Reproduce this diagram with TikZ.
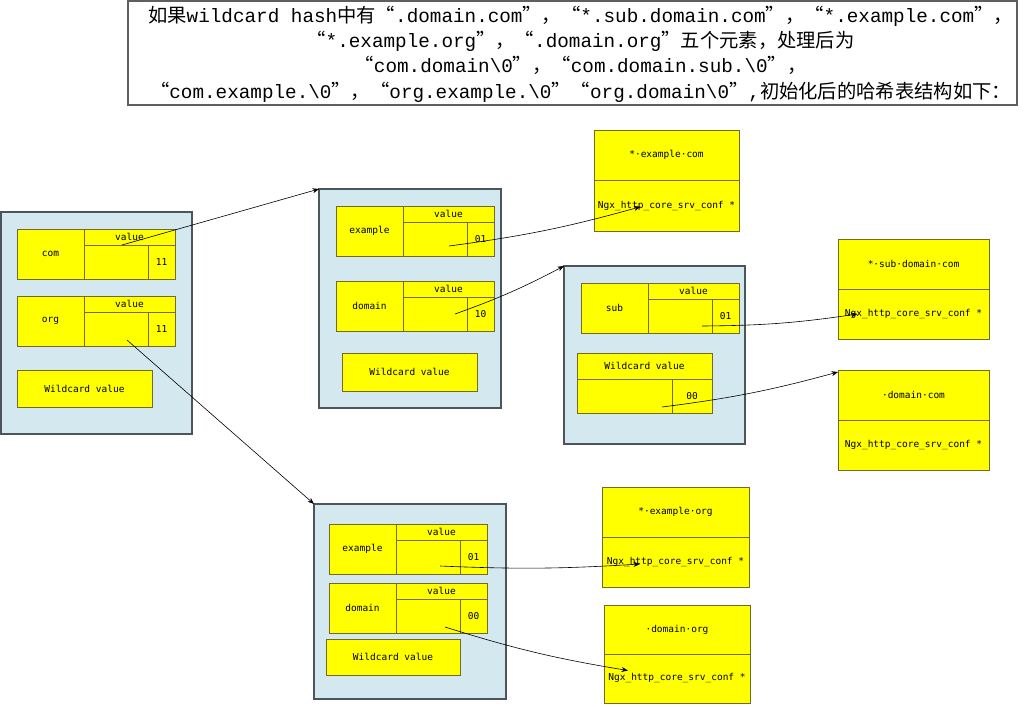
\documentclass[tikz,border=0pt]{standalone}
\usepackage{fontspec}
\usetikzlibrary{arrows.meta}
\newfontfamily\cjk[RawFeature=+fwid]{Noto Sans CJK SC}
\newfontfamily\titlefont{Liberation Mono}
\newfontfamily\boxfont{DejaVu Sans Mono}
\definecolor{cellyellow}{RGB}{255,255,0}
\definecolor{cellline}{RGB}{115,105,40}
\definecolor{boxblue}{RGB}{211,232,239}
\definecolor{boxline}{RGB}{75,85,90}
\definecolor{titleline}{RGB}{95,95,95}

\begin{document}
\begin{tikzpicture}[x=1pt,y=-1pt]
	\tikzset{cell/.style={draw=cellline, fill=cellyellow, line width=0.8pt, inner sep=0pt, outer sep=0pt, anchor=north west, font=\boxfont\fontsize{9.5}{11}\selectfont},
		holder/.style={draw=boxline, fill=boxblue, line width=1.2pt, inner sep=0pt, outer sep=0pt, anchor=north west},
		ptr/.style={-{Stealth[length=6.5pt,width=5pt]}, line width=0.6pt}}
	\useasboundingbox (0,0) rectangle (1024,706);

	% heading text
	\node[draw=titleline, line width=1.5pt, minimum width=889pt, minimum height=104pt, inner sep=0pt] (title) at (572.5,53) {};
	\node[align=center, inner sep=0pt, font=\titlefont\fontsize{19.3}{25.3}\selectfont] (title-text) at ([xshift=8pt,yshift=-1pt]title.center) {{\cjk 如果}wildcard hash{\cjk 中有“}.domain.com{\cjk ”，“}*.sub.domain.com{\cjk ”，“}*.example.com{\cjk ”，}\\
		{\cjk “}*.example.org{\cjk ”，“}.domain.org{\cjk ”五个元素，处理后为}\\
		{\cjk “}com.domain\textbackslash0{\cjk ”，“}com.domain.sub.\textbackslash0{\cjk ”，}\\
		{\cjk “}com.example.\textbackslash0{\cjk ”，“}org.example.\textbackslash0{\cjk ”“}org.domain\textbackslash0{\cjk ”},{\cjk 初始化后的哈希表结构如下：}};

	% hash tables
	\node[holder, minimum width=191pt, minimum height=222pt] (root) at (1,212) {};
	\node[holder, minimum width=182pt, minimum height=219pt] (cbox) at (319,189) {};
	\node[holder, minimum width=181pt, minimum height=178pt] (sbox) at (564,266) {};
	\node[holder, minimum width=192pt, minimum height=195pt] (obox) at (314,504) {};

	% elements: key | value / pointer | flags
	\foreach \n/\x/\y/\k/\v in {com/17/229/com/11, org/17/296/org/11, exa/336/206/example/01, doma/336/281/domain/10, sub/581/283/sub/01, exb/329/524/example/01, domb/329/583/domain/00}{
		\node[cell, minimum width=67pt, minimum height=50pt] (\n-key) at (\x,\y) {\k};
		\node[cell, minimum width=91pt, minimum height=16pt] (\n-hdr) at (\n-key.north east) {value};
		\node[cell, minimum width=64pt, minimum height=34pt] (\n-ptr) at (\n-hdr.south west) {};
		\node[cell, minimum width=27pt, minimum height=34pt] (\n-num) at (\n-ptr.north east) {\v};
	}

	\node[cell, minimum width=135pt, minimum height=37pt] (rootwc) at (17,370) {Wildcard value};
	\node[cell, minimum width=135pt, minimum height=38pt] (cboxwc) at (342,353) {Wildcard value};
	\node[cell, minimum width=134pt, minimum height=36pt] (oboxwc) at (326,639) {Wildcard value};

	\node[cell, minimum width=135pt, minimum height=26pt] (subwc-hdr) at (577,353) {Wildcard value};
	\node[cell, minimum width=95pt, minimum height=34pt] (subwc-ptr) at (subwc-hdr.south west) {};
	\node[cell, minimum width=40pt, minimum height=34pt] (subwc-num) at (subwc-ptr.north east) {00};

	% servers
	\foreach \n/\x/\y/\w/\h/\t in {tcom/594/130/145pt/50.5pt/*·example·com, tsub/838/239/151pt/50pt/*·sub·domain·com, tdom/838/370/151pt/50pt/·domain·com, torg/602/487/147pt/50pt/*·example·org, tdorg/604/605/146pt/49pt/·domain·org}{
		\node[cell, minimum width=\w, minimum height=\h] (\n-name) at (\x,\y) {\t};
		\node[cell, minimum width=\w, minimum height=\h] (\n-conf) at (\n-name.south west) {Ngx\_http\_core\_srv\_conf *};
	}

	% pointers
	\draw[ptr] ([xshift=6pt]com-ptr.north) -- (cbox.north west);
	\draw[ptr] ([xshift=11pt,yshift=-11pt]org-ptr.center) -- (obox.north west);
	\draw[ptr] ([xshift=14pt,yshift=-7pt]exa-ptr.center) to[bend right=4] ([xshift=-26pt,yshift=-1pt]tcom-conf.center);
	\draw[ptr] ([xshift=20pt]doma-ptr.center) to[bend right=4] (sbox.north west);
	\draw[ptr] ([xshift=22pt,yshift=-10pt]sub-ptr.center) to[bend right=4] ([xshift=-56pt]tsub-conf.center);
	\draw[ptr] ([xshift=37.5pt,yshift=-11pt]subwc-ptr.center) to[bend right=4] ([yshift=-2pt]tdom-name.north west);
	\draw[ptr] ([xshift=12pt,yshift=-9pt]exb-ptr.center) to[bend right=3] ([xshift=-35.5pt,yshift=-2pt]torg-conf.center);
	\draw[ptr] ([xshift=17pt,yshift=-11pt]domb-ptr.center) to[bend right=4] ([xshift=-49pt,yshift=8pt]tdorg-conf.center);
\end{tikzpicture}
\end{document}
